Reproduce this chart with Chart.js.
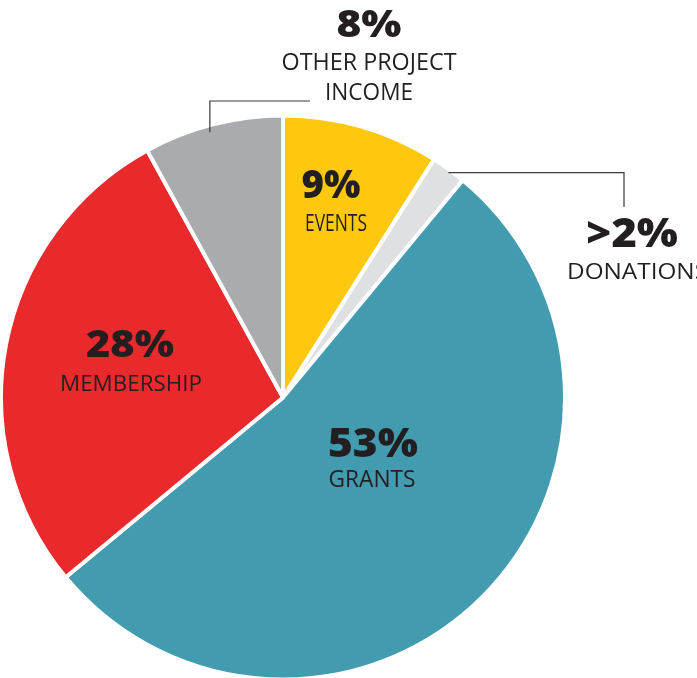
<!DOCTYPE html>
<html><head><meta charset="utf-8">
<script src="https://cdn.jsdelivr.net/npm/chart.js@4.4.0/dist/chart.umd.min.js"></script>
<style>html,body{margin:0;padding:0;background:#fff;overflow:hidden}#wrap{width:697px;height:678px;position:relative}</style>
</head><body><div id="wrap"><canvas id="c"></canvas></div>
<script>
// ---- data ----
const categories = ['EVENTS', 'DONATIONS', 'GRANTS', 'MEMBERSHIP', 'OTHER PROJECT INCOME'];
const values = [9, 2, 53, 28, 8];
const percentLabels = ['9%', '>2%', '53%', '28%', '8%'];
const nameLines = [['EVENTS'], ['DONATIONS'], ['GRANTS'], ['MEMBERSHIP'], ['OTHER PROJECT', 'INCOME']];
const colors = ['#FEC80F', '#DFE0E2', '#439BAF', '#E9292C', '#AAABAE'];

// ---- label layout (text placement only) ----
// x: center (or left if align 'left'), b: baseline, h: cap height, w: target width
const pctLayout = [
  {x: 331, b: 198, h: 28, w: 59},
  {x: 632, b: 247, h: 29, w: 92},
  {x: 373, b: 457, h: 29, w: 90},
  {x: 130, b: 357, h: 27, w: 88},
  {x: 369, b: 37,  h: 27, w: 65}
];
const nameLayout = [
  [{x: 336, b: 231, h: 17, w: 62}],
  [{x: 567, b: 279, h: 16, w: 141, align: 'left'}],
  [{x: 372, b: 487, h: 17, w: 87}],
  [{x: 131, b: 391, h: 16, w: 142}],
  [{x: 369, b: 70, h: 17, w: 175}, {x: 369, b: 100, h: 17, w: 88}]
];
// leader lines: index -> elbow definition
const leaders = {
  1: {dir: 'h', toX: 624, toY: 207},
  4: {dir: 'v', toY: 101, toX: 310}
};

const TEXT = '#231F20';
const CAP = 0.714; // Open Sans cap-height ratio

function fitText(ctx, text, x, b, h, w, bold, align) {
  const size = h / CAP;
  ctx.font = (bold ? '800 ' : '500 ') + size + 'px "Open Sans"';
  const m = ctx.measureText(text).width;
  const sx = w / m;
  ctx.save();
  ctx.translate(x, b);
  ctx.scale(sx, 1);
  ctx.textAlign = align || 'center';
  ctx.textBaseline = 'alphabetic';
  ctx.fillStyle = TEXT;
  ctx.fillText(text, 0, 0);
  ctx.restore();
}

const labelPlugin = {
  id: 'labels',
  afterDatasetsDraw(chart) {
    const ctx = chart.ctx;
    const meta = chart.getDatasetMeta(0);
    // leader lines
    ctx.save();
    ctx.strokeStyle = '#3a3a3a';
    ctx.lineWidth = 1.2;
    Object.keys(leaders).forEach(k => {
      const arc = meta.data[k];
      const L = leaders[k];
      const mid = (arc.startAngle + arc.endAngle) / 2;
      const r = arc.outerRadius - 4;
      let sx = arc.x + r * Math.cos(mid);
      let sy = arc.y + r * Math.sin(mid);
      ctx.beginPath();
      if (L.dir === 'h') {
        sx += 2;
        ctx.moveTo(sx, sy);
        ctx.lineTo(L.toX, sy);
        ctx.lineTo(L.toX, L.toY);
      } else {
        ctx.moveTo(sx - 4, sy + 4);
        ctx.lineTo(sx - 4, L.toY);
        ctx.lineTo(L.toX, L.toY);
      }
      ctx.stroke();
    });
    ctx.restore();
    // texts
    percentLabels.forEach((t, i) => {
      const p = pctLayout[i];
      fitText(ctx, t, p.x, p.b, p.h, p.w, true, 'center');
      nameLines[i].forEach((line, j) => {
        const n = nameLayout[i][j];
        fitText(ctx, line, n.x, n.b, n.h, n.w, false, n.align || 'center');
      });
    });
  }
};

const canvas = document.getElementById('c');
canvas.width = 697; canvas.height = 678;
new Chart(canvas, {
  type: 'pie',
  data: {
    labels: categories,
    datasets: [{
      data: values,
      backgroundColor: colors,
      borderColor: '#ffffff',
      borderWidth: 4,
      hoverOffset: 0
    }]
  },
  options: {
    responsive: false,
    animation: false,
    devicePixelRatio: 1,
    radius: 282,
    rotation: 0,
    layout: {padding: {left: 1, right: 132, top: 117, bottom: 0}},
    plugins: {legend: {display: false}, tooltip: {enabled: false}, title: {display: false}}
  },
  plugins: [labelPlugin]
});
</script>
</body></html>
